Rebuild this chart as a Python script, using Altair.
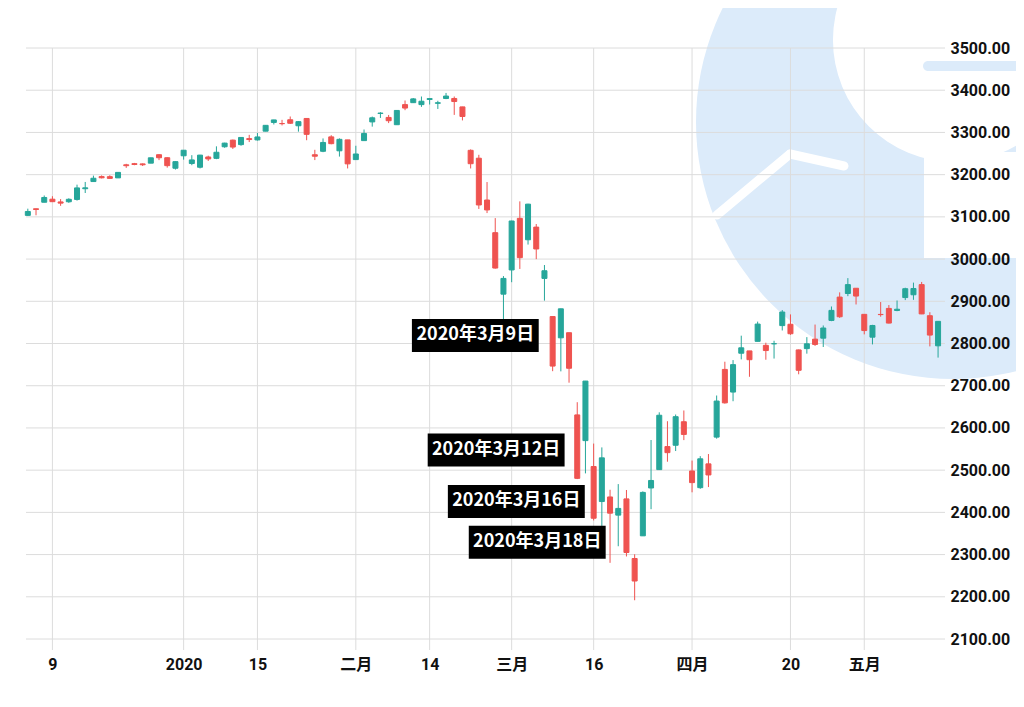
import math
import altair as alt
import pandas as pd

# ---------------- data (S&P 500 daily candles) ----------------
dates = [
    "2019-12-04", "2019-12-05", "2019-12-06", "2019-12-09", "2019-12-10", "2019-12-11", "2019-12-12",
    "2019-12-13", "2019-12-16", "2019-12-17", "2019-12-18", "2019-12-19", "2019-12-20", "2019-12-23",
    "2019-12-24", "2019-12-26", "2019-12-27", "2019-12-30", "2019-12-31",
    "2020-01-02", "2020-01-03", "2020-01-06", "2020-01-07", "2020-01-08", "2020-01-09", "2020-01-10",
    "2020-01-13", "2020-01-14", "2020-01-15", "2020-01-16", "2020-01-17", "2020-01-21", "2020-01-22",
    "2020-01-23", "2020-01-24", "2020-01-27", "2020-01-28", "2020-01-29", "2020-01-30", "2020-01-31",
    "2020-02-03", "2020-02-04", "2020-02-05", "2020-02-06", "2020-02-07", "2020-02-10", "2020-02-11",
    "2020-02-12", "2020-02-13", "2020-02-14", "2020-02-18", "2020-02-19", "2020-02-20", "2020-02-21",
    "2020-02-24", "2020-02-25", "2020-02-26", "2020-02-27", "2020-02-28",
    "2020-03-02", "2020-03-03", "2020-03-04", "2020-03-05", "2020-03-06", "2020-03-09", "2020-03-10",
    "2020-03-11", "2020-03-12", "2020-03-13", "2020-03-16", "2020-03-17", "2020-03-18", "2020-03-19",
    "2020-03-20", "2020-03-23", "2020-03-24", "2020-03-25", "2020-03-26", "2020-03-27", "2020-03-30",
    "2020-03-31",
    "2020-04-01", "2020-04-02", "2020-04-03", "2020-04-06", "2020-04-07", "2020-04-08", "2020-04-09",
    "2020-04-13", "2020-04-14", "2020-04-15", "2020-04-16", "2020-04-17", "2020-04-20", "2020-04-21",
    "2020-04-22", "2020-04-23", "2020-04-24", "2020-04-27", "2020-04-28", "2020-04-29", "2020-04-30",
    "2020-05-01", "2020-05-04", "2020-05-05", "2020-05-06", "2020-05-07", "2020-05-08", "2020-05-11",
    "2020-05-12", "2020-05-13", "2020-05-14",
]

opens = [
    3103.50, 3119.21, 3134.62, 3141.86, 3135.36, 3135.75, 3141.23, 3166.65, 3183.63, 3195.40,
    3195.21, 3192.32, 3223.33, 3226.05, 3225.45, 3227.20, 3247.23, 3240.09, 3215.18,
    3244.67, 3226.36, 3217.55, 3241.86, 3238.59, 3266.03, 3281.81, 3271.13, 3285.35, 3282.27,
    3302.97, 3323.66, 3321.03, 3330.02, 3315.77, 3333.10, 3247.16, 3255.35, 3289.46, 3256.45, 3282.33,
    3235.66, 3280.61, 3324.91, 3344.92, 3335.54, 3318.28, 3365.87, 3370.50, 3365.90, 3378.08,
    3369.04, 3380.39, 3380.45, 3360.50, 3257.61, 3238.94, 3139.90, 3062.54, 2916.90,
    2974.28, 3096.46, 3045.75, 3075.70, 2954.20, 2863.89, 2813.48, 2825.60, 2630.86, 2569.99,
    2508.59, 2425.66, 2436.50, 2393.48, 2431.94, 2290.71, 2344.44, 2457.77, 2501.29, 2555.87,
    2558.98, 2614.69,
    2498.08, 2458.54, 2514.92, 2578.28, 2738.65, 2685.00, 2776.99, 2782.46, 2805.10, 2795.64,
    2799.34, 2842.43, 2845.62, 2784.81, 2787.89, 2810.42, 2812.64, 2854.65, 2909.96, 2918.46, 2930.91,
    2869.09, 2815.01, 2868.88, 2883.14, 2878.26, 2908.83, 2915.46, 2939.50, 2865.86, 2794.54,
]

highs = [
    3119.38, 3119.45, 3150.60, 3148.87, 3142.12, 3143.98, 3176.28, 3182.68, 3197.71, 3198.22,
    3198.48, 3205.48, 3225.65, 3227.78, 3226.43, 3240.08, 3247.93, 3240.92, 3231.72,
    3258.14, 3246.15, 3246.84, 3244.91, 3267.07, 3275.58, 3282.99, 3288.13, 3294.25, 3298.66,
    3317.11, 3329.88, 3329.79, 3337.77, 3326.88, 3333.18, 3258.85, 3285.78, 3293.47, 3285.91, 3282.33,
    3268.44, 3306.92, 3337.58, 3347.96, 3341.42, 3352.26, 3375.63, 3381.47, 3385.09, 3380.69,
    3375.01, 3393.52, 3385.09, 3360.76, 3259.81, 3246.99, 3182.51, 3097.07, 2959.72,
    3090.96, 3136.72, 3130.97, 3083.04, 2985.93, 2863.89, 2882.59, 2825.60, 2660.95, 2711.33,
    2562.98, 2553.93, 2453.57, 2466.97, 2453.01, 2300.73, 2449.71, 2571.42, 2637.01, 2615.91,
    2631.80, 2641.39,
    2522.75, 2533.22, 2538.18, 2676.85, 2756.89, 2760.75, 2818.57, 2782.46, 2851.85, 2801.88,
    2806.51, 2879.22, 2868.98, 2785.54, 2815.10, 2844.90, 2842.71, 2887.72, 2921.15, 2954.86, 2930.91,
    2869.09, 2844.24, 2898.23, 2891.11, 2901.92, 2932.16, 2944.25, 2945.82, 2874.14, 2852.80,
]

lows = [
    3102.53, 3103.76, 3134.62, 3135.46, 3126.09, 3133.21, 3138.47, 3156.51, 3183.63, 3191.03,
    3191.14, 3192.32, 3216.03, 3222.30, 3220.51, 3227.20, 3234.37, 3216.57, 3212.03,
    3235.53, 3222.34, 3214.64, 3232.43, 3236.67, 3263.67, 3260.86, 3268.43, 3277.19, 3280.69,
    3302.82, 3318.86, 3316.61, 3320.04, 3301.87, 3281.53, 3234.50, 3253.22, 3271.89, 3242.80, 3214.68,
    3235.66, 3280.61, 3313.75, 3334.39, 3322.12, 3317.77, 3352.72, 3369.72, 3360.52, 3366.15,
    3355.61, 3378.83, 3341.53, 3328.45, 3214.65, 3118.77, 3108.99, 2977.39, 2855.84,
    2945.19, 2976.63, 3034.38, 2999.83, 2901.54, 2734.43, 2734.00, 2707.22, 2478.86, 2492.37,
    2380.94, 2367.04, 2280.52, 2319.78, 2295.56, 2191.86, 2344.44, 2407.53, 2500.72, 2520.02,
    2545.28, 2571.15,
    2447.49, 2455.79, 2459.96, 2574.57, 2657.67, 2663.30, 2762.36, 2721.17, 2805.10, 2761.54,
    2764.32, 2830.88, 2820.43, 2727.10, 2775.95, 2794.26, 2791.76, 2852.89, 2860.71, 2912.16, 2892.47,
    2821.61, 2797.85, 2863.55, 2847.65, 2876.48, 2902.88, 2903.44, 2869.59, 2793.15, 2766.64,
]

closes = [
    3112.76, 3117.43, 3145.91, 3135.96, 3132.52, 3141.63, 3168.57, 3168.80, 3191.45, 3192.52,
    3191.14, 3205.37, 3221.22, 3224.01, 3223.38, 3239.91, 3240.02, 3221.29, 3230.78,
    3257.85, 3234.85, 3246.28, 3237.18, 3253.05, 3274.70, 3265.35, 3288.13, 3283.15, 3289.29,
    3316.81, 3329.62, 3320.79, 3321.75, 3325.54, 3295.47, 3243.63, 3276.24, 3273.40, 3283.66, 3225.52,
    3248.92, 3297.59, 3334.69, 3345.78, 3327.71, 3352.09, 3357.75, 3379.45, 3373.94, 3380.16,
    3370.29, 3386.15, 3373.23, 3337.75, 3225.89, 3128.21, 3116.39, 2978.76, 2954.22,
    3090.23, 3003.37, 3130.12, 3023.94, 2972.37, 2746.56, 2882.23, 2741.38, 2480.64, 2711.02,
    2386.13, 2529.19, 2398.10, 2409.39, 2304.92, 2237.40, 2447.33, 2475.56, 2630.07, 2541.47,
    2626.65, 2584.59,
    2470.50, 2526.90, 2488.65, 2663.68, 2659.41, 2749.98, 2789.82, 2761.63, 2846.06, 2783.36,
    2799.55, 2874.56, 2823.16, 2736.56, 2799.31, 2797.80, 2836.74, 2878.48, 2863.39, 2939.51, 2912.43,
    2830.71, 2842.74, 2868.44, 2848.42, 2881.19, 2929.80, 2930.32, 2870.12, 2820.00, 2852.50,
]

# x-axis ticks (date -> label)
tick_dates = ["2019-12-09", "2020-01-02", "2020-01-15", "2020-02-03", "2020-02-14",
              "2020-03-02", "2020-03-16", "2020-04-01", "2020-04-20", "2020-05-01"]
tick_labels = ["9", "2020", "15", "二月", "14", "三月", "16", "四月", "20", "五月"]

# y-axis ticks
price_ticks = [2100, 2200, 2300, 2400, 2500, 2600, 2700, 2800, 2900, 3000, 3100, 3200, 3300, 3400, 3500]

# annotations: text, centre position (trading-day index units), centre price
ann_texts = ["2020年3月9日", "2020年3月12日", "2020年3月16日", "2020年3月18日"]
ann_cx = [54.57, 57.11, 59.57, 62.12]
ann_price = [2819, 2548, 2426, 2329]

# ---------------- layout / style ----------------
W, H = 925, 602
X_LO, X_HI = -0.1, 111.48
Y_LO, Y_HI = 2074, 3500
UP, DOWN = "#26a69a", "#ef5350"
GRID = "#dcdcdc"
WM = "#dcebfa"
FONT = "Roboto, 'Noto Sans CJK SC'"

step = W / (X_HI - X_LO)          # px per trading day
ppu = H / (Y_HI - Y_LO)           # px per price point

df = pd.DataFrame({"i": list(range(len(dates))), "date": dates,
                   "open": opens, "high": highs, "low": lows, "close": closes})
df["dir"] = ["up" if c >= o else "down" for o, c in zip(opens, closes)]

tick_idx = [dates.index(d) for d in tick_dates]
label_expr = "[" + ",".join("'%s'" % t for t in tick_labels) + "][indexof([" + \
    ",".join(str(t) for t in tick_idx) + "], datum.value)]"

xs = alt.Scale(domain=[X_LO, X_HI], nice=False, zero=False)
ys = alt.Scale(domain=[Y_LO, Y_HI], nice=False, zero=False)
cs = alt.Scale(domain=["up", "down"], range=[UP, DOWN])

X_AX = alt.Axis(values=tick_idx, labelExpr=label_expr, grid=False, domain=False, ticks=False,
                labelPadding=6, labelFont=FONT, labelFontSize=16, labelFontWeight="bold",
                labelColor="#111111", title=None, labelFlush=False, labelOverlap=False)
Y_AX = alt.Axis(orient="right", values=price_ticks, format=".2f", grid=False, domain=False,
                ticks=False, labelPadding=3, labelFont=FONT, labelFontSize=16,
                labelFontWeight="bold", labelColor="#111111", title=None, zindex=1)

one = pd.DataFrame({"k": [0]})

# ---------------- watermark (decorative logo, pixel space) ----------------
wm_disc = alt.Chart(one).mark_arc(color=WM, outerRadius=257, innerRadius=0,
                                  theta=0, theta2=2 * math.pi).encode(
    x=alt.value(931), y=alt.value(74))
wm_hole = alt.Chart(one).mark_arc(color="white", outerRadius=122, innerRadius=0,
                                  theta=0, theta2=2 * math.pi).encode(
    x=alt.value(933), y=alt.value(-8))
wm_open = alt.Chart(one).mark_rect(color="white").encode(
    x=alt.value(902), x2=alt.value(1010), y=alt.value(104), y2=alt.value(210))
wm_bar = alt.Chart(one).mark_rect(color=WM, cornerRadius=5).encode(
    x=alt.value(901), x2=alt.value(1010), y=alt.value(13), y2=alt.value(23))
wm_s1 = alt.Chart(one).mark_rule(color="white", strokeWidth=9, strokeCap="round").encode(
    x=alt.value(695), y=alt.value(167), x2=alt.value(768), y2=alt.value(106))
wm_s2 = alt.Chart(one).mark_rule(color="white", strokeWidth=9, strokeCap="round").encode(
    x=alt.value(768), y=alt.value(106), x2=alt.value(822), y2=alt.value(118))

# ---------------- grid ----------------
hgrid = alt.Chart(pd.DataFrame({"v": price_ticks})).mark_rule(color=GRID, strokeWidth=1).encode(
    y=alt.Y("v:Q", scale=ys, axis=Y_AX), x=alt.value(4), x2=alt.value(923))
vgrid = alt.Chart(pd.DataFrame({"t": tick_idx})).mark_rule(color=GRID, strokeWidth=1).encode(
    x=alt.X("t:Q", scale=xs, axis=X_AX), y=alt.value(0), y2=alt.value(H))

# ---------------- candles ----------------
wick = alt.Chart(df).mark_rule(strokeWidth=1).encode(
    x=alt.X("i:Q", scale=xs, axis=X_AX),
    y=alt.Y("low:Q", scale=ys, axis=Y_AX),
    y2="high:Q",
    color=alt.Color("dir:N", scale=cs, legend=None))
body = alt.Chart(df).mark_bar(size=5, strokeWidth=1).encode(
    x=alt.X("i:Q", scale=xs, axis=X_AX),
    y=alt.Y("open:Q", scale=ys, axis=Y_AX),
    y2="close:Q",
    fill=alt.Fill("dir:N", scale=cs, legend=None),
    stroke=alt.Stroke("dir:N", scale=cs, legend=None))

# ---------------- annotations ----------------
def text_px(s):
    return sum(10.2 if ch.isdigit() else 18 for ch in s)

half_w = [(text_px(t) + 13) / 2 / step for t in ann_texts]
half_h = 16.5 / ppu
ann = pd.DataFrame({
    "text": ann_texts, "cx": ann_cx, "cy": ann_price,
    "x1": [c - h for c, h in zip(ann_cx, half_w)],
    "x2": [c + h for c, h in zip(ann_cx, half_w)],
    "y1": [p - half_h for p in ann_price],
    "y2": [p + half_h for p in ann_price],
})
ann_box = alt.Chart(ann).mark_rect(color="black").encode(
    x=alt.X("x1:Q", scale=xs, axis=X_AX), x2="x2:Q",
    y=alt.Y("y1:Q", scale=ys, axis=Y_AX), y2="y2:Q")
ann_txt = alt.Chart(ann).mark_text(color="white", font="Noto Sans CJK SC", fontWeight="bold",
                                   fontSize=18, align="center", baseline="middle").encode(
    x=alt.X("cx:Q", scale=xs, axis=X_AX),
    y=alt.Y("cy:Q", scale=ys, axis=Y_AX),
    text="text:N")

chart = alt.layer(
    wm_disc, wm_hole, wm_open, wm_bar, wm_s1, wm_s2,
    hgrid, vgrid, wick, body, ann_box, ann_txt
).properties(
    width=W, height=H,
    padding={"left": 14, "top": 40, "right": 69, "bottom": 45},
    autosize=alt.AutoSizeParams(type="none"),
).configure_view(stroke=None, strokeWidth=0)

chart.save("out.html", embed_options={"renderer": "svg", "actions": False})
